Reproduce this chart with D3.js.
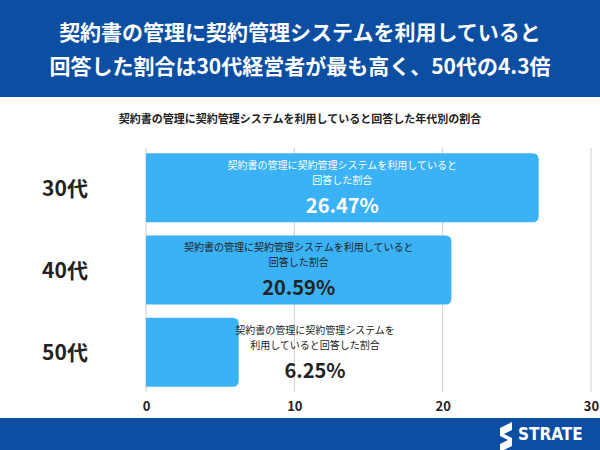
<!DOCTYPE html>
<html><head><meta charset="utf-8">
<script src="https://cdn.jsdelivr.net/npm/d3@7"></script>
<style>body{margin:0;font-family:"Noto Sans CJK JP","Noto Sans",sans-serif;}</style>
</head><body><svg id="c" width="600" height="450"></svg>
<script>
"use strict";
const categories = ["30代", "40代", "50代"];
const values = [26.47, 20.59, 6.25];
const barLabels = [
  ["契約書の管理に契約管理システムを利用していると", "回答した割合"],
  ["契約書の管理に契約管理システムを利用していると", "回答した割合"],
  ["契約書の管理に契約管理システムを", "利用していると回答した割合"]
];
const ticks = [0, 10, 20, 30];

const svg = d3.select("#c");
const font = '"Noto Sans CJK JP",sans-serif';

// ヘッダー
svg.append("rect").attr("width", 600).attr("height", 97).attr("fill", "#0b4ea2");
svg.append("text").attr("x", 300).attr("y", 40).attr("text-anchor", "middle")
  .attr("fill", "#fff").attr("font-size", 21).attr("font-weight", 700).attr("font-family", font)
  .text("契約書の管理に契約管理システムを利用していると");
svg.append("text").attr("x", 300).attr("y", 74).attr("text-anchor", "middle")
  .attr("fill", "#fff").attr("font-size", 21).attr("font-weight", 700).attr("font-family", font)
  .text("回答した割合は30代経営者が最も高く、50代の4.3倍");
svg.append("text").attr("x", 300).attr("y", 123).attr("text-anchor", "middle")
  .attr("fill", "#222").attr("font-size", 11).attr("font-weight", 700).attr("font-family", font)
  .text("契約書の管理に契約管理システムを利用していると回答した年代別の割合");

const x = d3.scaleLinear().domain([0, 30]).range([146, 591]);
const y = d3.scaleBand().domain(categories).range([150, 390]).paddingInner(0.16).paddingOuter(0.04);

// グリッド
svg.append("g").selectAll("line").data(ticks).join("line")
  .attr("x1", d => x(d)).attr("x2", d => x(d)).attr("y1", 148).attr("y2", 392)
  .attr("stroke", "#ccc").attr("stroke-width", 1);

svg.append("g").attr("transform", "translate(0,392)")
  .call(d3.axisBottom(x).tickValues(ticks).tickSize(0).tickPadding(10))
  .call(g => g.select(".domain").remove())
  .call(g => g.selectAll("text").attr("font-size", 13).attr("font-weight", 700)
    .attr("font-family", font).attr("fill", "#222"));

// カテゴリ
svg.append("g").selectAll("text").data(categories).join("text")
  .attr("x", 65).attr("y", d => y(d) + y.bandwidth() / 2 + 8).attr("text-anchor", "middle")
  .attr("font-size", 21).attr("font-weight", 700).attr("font-family", font).attr("fill", "#222")
  .text(d => d);

// バー
const bars = svg.append("g").selectAll("g").data(values).join("g");
bars.append("path").attr("fill", "#3bb2f6")
  .attr("d", (d, i) => {
    const x0 = x(0), x1 = x(d), y0 = y(categories[i]), h = y.bandwidth(), r = 6;
    return `M${x0},${y0}H${x1 - r}Q${x1},${y0} ${x1},${y0 + r}V${y0 + h - r}Q${x1},${y0 + h} ${x1 - r},${y0 + h}H${x0}Z`;
  });

bars.each(function (d, i) {
  const g = d3.select(this);
  const inside = x(d) - x(0) > 200;
  const cx = inside ? (x(0) + x(d)) / 2 : 315;
  const col = i === 0 ? "#fff" : "#222";
  const y0 = y(categories[i]);
  barLabels[i].forEach((t, k) => {
    g.append("text").attr("x", cx).attr("y", y0 + 16 + k * 15).attr("text-anchor", "middle")
      .attr("font-size", 10).attr("font-family", font).attr("fill", col).text(t);
  });
  g.append("text").attr("x", cx).attr("y", y0 + 60).attr("text-anchor", "middle")
    .attr("font-size", 20).attr("font-weight", 700).attr("font-family", font).attr("fill", col)
    .text(d.toFixed(2) + "%");
});

// フッター
svg.append("rect").attr("y", 418).attr("width", 600).attr("height", 32).attr("fill", "#0b4ea2");
svg.append("path").attr("d", "M500,428 l12,-6 v8 l-8,4 l8,4 v8 l-12,6 v-8 l8,-4 l-8,-4z").attr("fill", "#fff");
svg.append("text").attr("x", 518).attr("y", 440).attr("fill", "#fff").attr("font-size", 17)
  .attr("font-weight", 700).attr("font-family", "DejaVu Sans Condensed,sans-serif").text("STRATE");
</script></body></html>
